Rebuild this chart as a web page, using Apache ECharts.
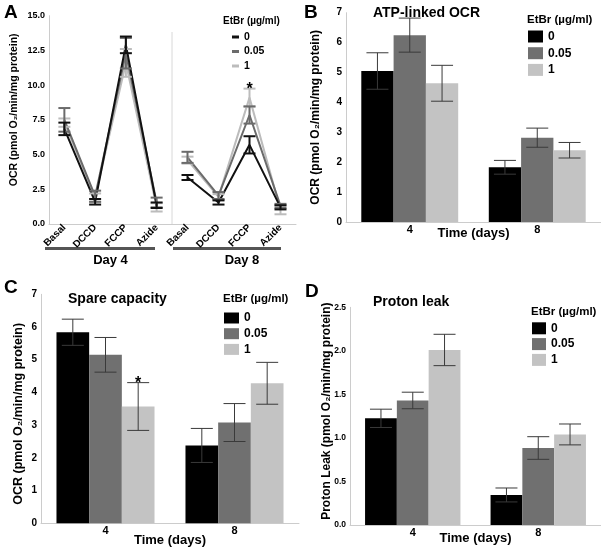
<!DOCTYPE html>
<html><head><meta charset="utf-8">
<script src="https://cdn.jsdelivr.net/npm/echarts@6/dist/echarts.min.js"></script>
<style>html,body{margin:0;padding:0;background:#fff}#c{width:601px;height:552px}</style>
</head><body><div id="c"></div>
<script>
// ---------- data ----------
const doseLabels = ['0', '0.05', '1'];
const stepCats = ['Basal', 'DCCD', 'FCCP', 'Azide'];
const dayNames = ['Day 4', 'Day 8'];
const timeCats = ['4', '8'];

// Panel A (OCR time course) means and error
const aD4_0 = [6.85, 1.6, 12.9, 1.35];
const aD4_0e = [0.45, 0.2, 0.6, 0.2];
const aD4_005 = [7.5, 2.0, 12.3, 1.55];
const aD4_005e = [0.85, 0.4, 1.1, 0.35];
const aD4_1 = [7.3, 1.9, 11.6, 1.2];
const aD4_1e = [0.3, 0.3, 1.0, 0.3];
const aD8_0 = [3.35, 1.55, 5.7, 1.2];
const aD8_0e = [0.18, 0.15, 0.62, 0.15];
const aD8_005 = [4.8, 2.05, 7.85, 1.3];
const aD8_005e = [0.4, 0.25, 0.62, 0.15];
const aD8_1 = [4.6, 1.95, 9.1, 1.0];
const aD8_1e = [0.25, 0.2, 0.65, 0.3];
const aD8_1sig = ['', '', '*', ''];

// Panel B ATP-linked OCR
const b0 = [5.05, 1.83], b0e = [0.61, 0.23];
const b005 = [6.25, 2.82], b005e = [0.57, 0.32];
const b1 = [4.64, 2.40], b1e = [0.60, 0.26];
// Panel C Spare capacity
const c0 = [5.84, 2.38], c0e = [0.40, 0.52];
const c005 = [5.15, 3.08], c005e = [0.53, 0.58];
const c1 = [3.57, 4.28], c1e = [0.73, 0.64];
const c1sig = ['*', ''];
// Panel D Proton leak
const d0 = [1.225, 0.345], d0e = [0.105, 0.08];
const d005 = [1.43, 0.884], d005e = [0.095, 0.13];
const d1 = [2.01, 1.04], d1e = [0.18, 0.12];

// ---------- style ----------
const F = "'Liberation Sans', Arial, Helvetica, sans-serif";
const lineCol = ['#111111', '#6b6b6b', '#bcbcbc'];
const barCol = ['#000000', '#707070', '#c3c3c3'];
const axisCol = '#cccccc';
const GAP = 0.24;

function errData(mean, err) { return mean.map((m, i) => [i, m - err[i], m + err[i]]); }

function errSeries(name, xi, yi, mean, err, off, gap, color, capW, lw, sig, fs) {
  return {
    type: 'custom', name: name, xAxisIndex: xi, yAxisIndex: yi, z: 5, silent: true, clip: false,
    data: errData(mean, err),
    renderItem: function (params, api) {
      const i = api.value(0);
      const t = api.coord([i, api.value(2)]);
      const b = api.coord([i, api.value(1)]);
      const bw = api.size([1, 0])[0] * (1 - gap) / 3;
      const x = t[0] + off * bw;
      const st = { stroke: color, lineWidth: lw };
      const ch = [
        { type: 'line', shape: { x1: x, y1: t[1], x2: x, y2: b[1] }, style: st },
        { type: 'line', shape: { x1: x - capW / 2, y1: t[1], x2: x + capW / 2, y2: t[1] }, style: st },
        { type: 'line', shape: { x1: x - capW / 2, y1: b[1], x2: x + capW / 2, y2: b[1] }, style: st }
      ];
      if (sig && sig[i]) {
        ch.push({ type: 'text', x: x, y: t[1] + 1, style: { text: sig[i], fill: '#000', font: 'bold ' + fs + 'px ' + F, align: 'center', verticalAlign: 'middle', textAlign: 'center', textVerticalAlign: 'middle' } });
      }
      return { type: 'group', children: ch };
    }
  };
}

function lineSeries(name, xi, yi, data, color) {
  return { type: 'line', name: name, xAxisIndex: xi, yAxisIndex: yi, data: data, symbol: 'none',
    lineStyle: { color: color, width: 2 }, itemStyle: { color: color }, z: 3 };
}
function barSeries(name, xi, yi, data, color) {
  return { type: 'bar', name: name, xAxisIndex: xi, yAxisIndex: yi, data: data, barGap: '0%', barCategoryGap: (GAP * 100) + '%',
    itemStyle: { color: color, borderWidth: 0 }, z: 2 };
}

const lbl = { color: '#000', fontWeight: 'bold', fontFamily: F };
function valAxis(gi, max, interval, fs, name, gap, nfs, pad, fmt, show) {
  return {
    type: 'value', gridIndex: gi, min: 0, max: max, interval: interval, show: show !== false,
    axisLine: { show: true, lineStyle: { color: axisCol, width: 1 } }, axisTick: { show: false },
    splitLine: { show: false },
    axisLabel: Object.assign({ fontSize: fs, margin: 4, formatter: fmt }, lbl),
    name: name, nameLocation: 'middle', nameGap: gap, nameRotate: 90, nameMoveOverlap: false,
    nameTextStyle: Object.assign({ fontSize: nfs, padding: pad }, lbl)
  };
}
function catAxis(gi, data, fs, rotate, name, nameGap, nameFs, namePad) {
  return {
    type: 'category', gridIndex: gi, data: data,
    axisLine: { show: true, lineStyle: { color: axisCol, width: 1 } }, axisTick: { show: false },
    axisLabel: Object.assign({ fontSize: fs, margin: rotate ? 2 : 2, rotate: rotate, interval: 0 }, lbl),
    name: name, nameLocation: 'middle', nameGap: nameGap, nameMoveOverlap: false,
    nameTextStyle: Object.assign({ fontSize: nameFs, padding: namePad }, lbl)
  };
}

function legend(left, top, names, iw, ih, gap, fs, icon) {
  return { left: left, top: top, orient: 'vertical', padding: 0, itemGap: gap, itemWidth: iw, itemHeight: ih,
    icon: icon, selectedMode: false, data: names,
    formatter: n => n.split(':')[1],
    textStyle: Object.assign({ fontSize: fs, lineHeight: 14 }, lbl),
    itemStyle: { borderWidth: 0 } };
}
function ttl(text, left, top, fs) {
  return { text: text, left: left, top: top, padding: 0, textStyle: Object.assign({ fontSize: fs }, lbl) };
}

const nA = doseLabels.map(d => 'A:' + d), nB = doseLabels.map(d => 'B:' + d),
      nC = doseLabels.map(d => 'C:' + d), nD = doseLabels.map(d => 'D:' + d);

const series = [];
// Panel A: draw light first so black is on top
const aD4 = [aD4_0, aD4_005, aD4_1], aD4e = [aD4_0e, aD4_005e, aD4_1e];
const aD8 = [aD8_0, aD8_005, aD8_1], aD8e = [aD8_0e, aD8_005e, aD8_1e];
[2, 1, 0].forEach(k => {
  series.push(lineSeries(nA[k], 0, 0, aD4[k], lineCol[k]));
  series.push(errSeries(nA[k], 0, 0, aD4[k], aD4e[k], 0, 0, lineCol[k], 12, 2, null, 15));
  series.push(lineSeries(nA[k], 1, 1, aD8[k], lineCol[k]));
  series.push(errSeries(nA[k], 1, 1, aD8[k], aD8e[k], 0, 0, lineCol[k], 12, 2, k === 2 ? aD8_1sig : null, 16));
});
// Panels B, C, D
const panels = [
  { n: nB, xi: 2, m: [b0, b005, b1], e: [b0e, b005e, b1e], s: [null, null, null] },
  { n: nC, xi: 3, m: [c0, c005, c1], e: [c0e, c005e, c1e], s: [null, null, c1sig] },
  { n: nD, xi: 4, m: [d0, d005, d1], e: [d0e, d005e, d1e], s: [null, null, null] }
];
panels.forEach(p => {
  [0, 1, 2].forEach(k => series.push(barSeries(p.n[k], p.xi, p.xi, p.m[k], barCol[k])));
  [0, 1, 2].forEach(k => series.push(errSeries(p.n[k], p.xi, p.xi, p.m[k], p.e[k], k - 1, GAP, '#3a3a3a', 22, 1, p.s[k], 16)));
});

const ocrName = 'OCR (pmol O\u2082/min/mg protein)';
const option = {
  animation: false,
  backgroundColor: '#ffffff',
  textStyle: { fontFamily: F },
  title: [
    ttl('A', 4, 3, 19), ttl('B', 304, 3, 19), ttl('C', 4, 278, 19), ttl('D', 305, 282, 19),
    ttl('ATP-linked OCR', 373, 6, 14), ttl('Spare capacity', 68, 292, 14), ttl('Proton leak', 373, 295, 14),
    ttl('EtBr (\u00b5g/ml)', 223, 16, 10), ttl('EtBr (\u00b5g/ml)', 527, 14, 11.5),
    ttl('EtBr (\u00b5g/ml)', 223, 293, 11.5), ttl('EtBr (\u00b5g/ml)', 531, 306, 11.5)
  ],
  legend: [
    legend(232, 30, nA, 7, 3, 0.5, 10.5, 'rect'),
    legend(528, 29.5, nB, 15, 12, 2.7, 12, 'rect'),
    legend(224, 311, nC, 15, 11, 1.7, 12, 'rect'),
    legend(532, 321.3, nD, 14, 12, 1.8, 12, 'rect')
  ],
  grid: [
    { left: 49, top: 15.7, width: 123, height: 208.3, outerBoundsMode: 'none' },
    { left: 172, top: 15.7, width: 124, height: 208.3, outerBoundsMode: 'none' },
    { left: 346, top: 12.7, width: 255, height: 209.3, outerBoundsMode: 'none' },
    { left: 41, top: 294.3, width: 258, height: 229, outerBoundsMode: 'none' },
    { left: 350, top: 307.3, width: 251, height: 217.7, outerBoundsMode: 'none' }
  ],
  xAxis: [
    catAxis(0, stepCats, 10, 45, dayNames[0], 30, 13, 0),
    catAxis(1, stepCats, 10, 45, dayNames[1], 30, 13, [0, 0, 0, 16]),
    catAxis(2, timeCats, 11, 0, 'Time (days)', 4.5, 13, 0),
    catAxis(3, timeCats, 11, 0, 'Time (days)', 11, 13, 0),
    catAxis(4, timeCats, 11, 0, 'Time (days)', 6.5, 13, 0)
  ],
  yAxis: [
    valAxis(0, 15, 2.5, 9, ocrName, 29, 10.5, [0, 0, 0, 20], v => v.toFixed(1)),
    valAxis(1, 15, 2.5, 9, '', 0, 10, 0, v => v, false),
    valAxis(2, 7, 1, 10, ocrName, 24, 12, 0, v => v),
    valAxis(3, 7, 1, 10, ocrName, 16, 12.5, [0, 10, 0, 0], v => v),
    valAxis(4, 2.5, 0.5, 8.5, 'Proton Leak (pmol O\u2082/min/mg protein)', 17, 12, [0, 0, 0, 10], v => v.toFixed(1))
  ],
  graphic: [
    { type: 'line', shape: { x1: 172, y1: 32, x2: 172, y2: 224 }, style: { stroke: '#d8d8d8', lineWidth: 1 }, silent: true },
    { type: 'line', shape: { x1: 45, y1: 248.5, x2: 155, y2: 248.5 }, style: { stroke: '#555555', lineWidth: 3 }, silent: true },
    { type: 'line', shape: { x1: 173, y1: 248.5, x2: 281, y2: 248.5 }, style: { stroke: '#555555', lineWidth: 3 }, silent: true }
  ],
  series: series
};
const chart = echarts.init(document.getElementById('c'), null, { renderer: 'canvas' });
chart.setOption(option);
</script>
</body></html>
